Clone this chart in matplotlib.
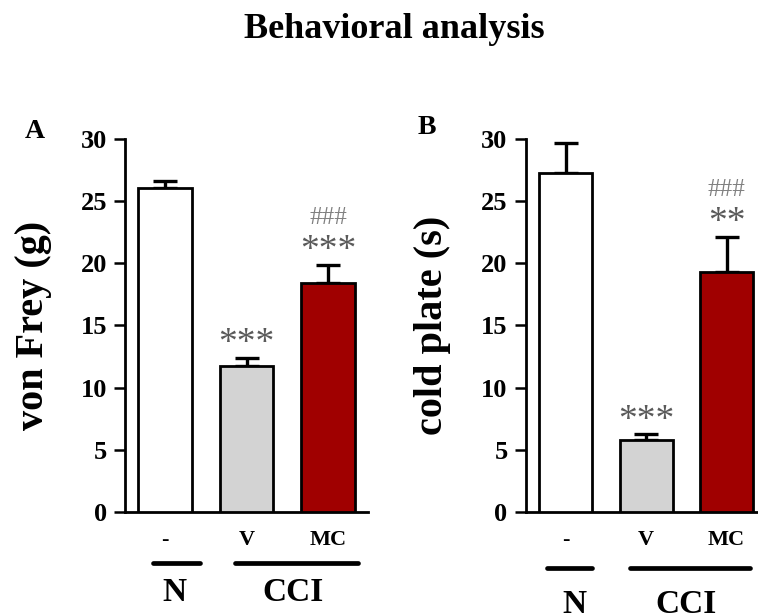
import matplotlib
matplotlib.use("Agg")
import matplotlib.pyplot as plt

# ---- data ----
groups = ["-", "V", "MC"]
colors = ["#ffffff", "#d3d3d3", "#a00000"]

vonfrey_mean = [26.1, 11.7, 18.4]
vonfrey_sem = [0.55, 0.7, 1.5]
vonfrey_stars = ["", "***", "***"]
vonfrey_hash = ["", "", "###"]

cold_mean = [27.3, 5.8, 19.3]
cold_sem = [2.4, 0.45, 2.85]
cold_stars = ["", "***", "**"]
cold_hash = ["", "", "###"]

title = "Behavioral analysis"
SERIF = ["Liberation Serif", "DejaVu Serif"]

fig = plt.figure(figsize=(7.58, 6.15), dpi=100)
fig.text(0.52, 0.938, title, ha="center", va="baseline", fontsize=26,
         fontweight="bold", family=SERIF)

def panel(rect, means, sems, stars, hashes, ylabel, letter, xlim,
          n_line, cci_line, n_x, cci_x, line_y, grp_y, letter_xy, label_x):
    ax = fig.add_axes(rect)
    x = list(range(len(means)))
    ax.bar(x, means, width=0.66, color=colors, edgecolor="black",
           linewidth=2.0, zorder=3)
    ax.errorbar(x, means, yerr=[[0]*len(sems), sems], fmt="none",
                ecolor="black", elinewidth=2.4, capsize=8.5, capthick=2.4,
                zorder=2)
    ax.set_xlim(*xlim)
    ax.set_ylim(0, 30)
    ax.set_yticks([0, 5, 10, 15, 20, 25, 30])
    ax.set_xticks(x)
    ax.set_xticklabels(groups)
    for s in ["top", "right"]:
        ax.spines[s].set_visible(False)
    for s in ["left", "bottom"]:
        ax.spines[s].set_linewidth(2.0)
    ax.tick_params(axis="y", direction="out", length=8, width=1.8, pad=5)
    ax.tick_params(axis="x", length=0, pad=13)
    for lab in ax.get_yticklabels():
        lab.set_fontfamily(SERIF)
        lab.set_fontweight("bold")
        lab.set_fontsize(19)
    for lab in ax.get_xticklabels():
        lab.set_fontfamily(SERIF)
        lab.set_fontweight("bold")
        lab.set_fontsize(16)
    ax.set_ylabel(ylabel, fontsize=29, fontweight="bold", family=SERIF)
    ax.yaxis.set_label_coords(label_x, 0.5)
    for i in x:
        top = means[i] + sems[i]
        if stars[i]:
            ax.text(i, top + 0.35, stars[i], ha="center", va="baseline",
                    fontsize=27, color="#5a5a5a", family=SERIF)
        if hashes[i]:
            ax.text(i, top + 3.3, hashes[i], ha="center", va="baseline",
                    fontsize=18, color="#808080", family=SERIF)
    tr = ax.get_xaxis_transform()
    ax.plot(n_line, [line_y, line_y], color="black", lw=3.4,
            solid_capstyle="round", transform=tr, clip_on=False)
    ax.plot(cci_line, [line_y, line_y], color="black", lw=3.4,
            solid_capstyle="round", transform=tr, clip_on=False)
    ax.text(n_x, grp_y, "N", transform=tr, ha="center", va="center",
            fontsize=24, fontweight="bold", family=SERIF)
    ax.text(cci_x, grp_y, "CCI", transform=tr, ha="center", va="center",
            fontsize=24, fontweight="bold", family=SERIF)
    fig.text(letter_xy[0], letter_xy[1], letter, ha="center",
             va="center", fontsize=20, fontweight="bold", family=SERIF)
    return ax

panel([0.165, 0.168, 0.3205, 0.6055], vonfrey_mean, vonfrey_sem,
      vonfrey_stars, vonfrey_hash, "von Frey (g)", "A", (-0.49, 2.49),
      (-0.15, 0.43), (0.86, 2.37), 0.12, 1.57, -0.138, -0.218,
      (35 / 758, 1 - 131 / 615), -0.30)
panel([0.6935, 0.168, 0.317, 0.6055], cold_mean, cold_sem,
      cold_stars, cold_hash, "cold plate (s)", "B", (-0.5, 2.49),
      (-0.24, 0.33), (0.80, 2.29), 0.11, 1.5, -0.151, -0.25,
      (427 / 758, 1 - 128 / 615), -0.31)

fig.savefig("out.png", dpi=100)
